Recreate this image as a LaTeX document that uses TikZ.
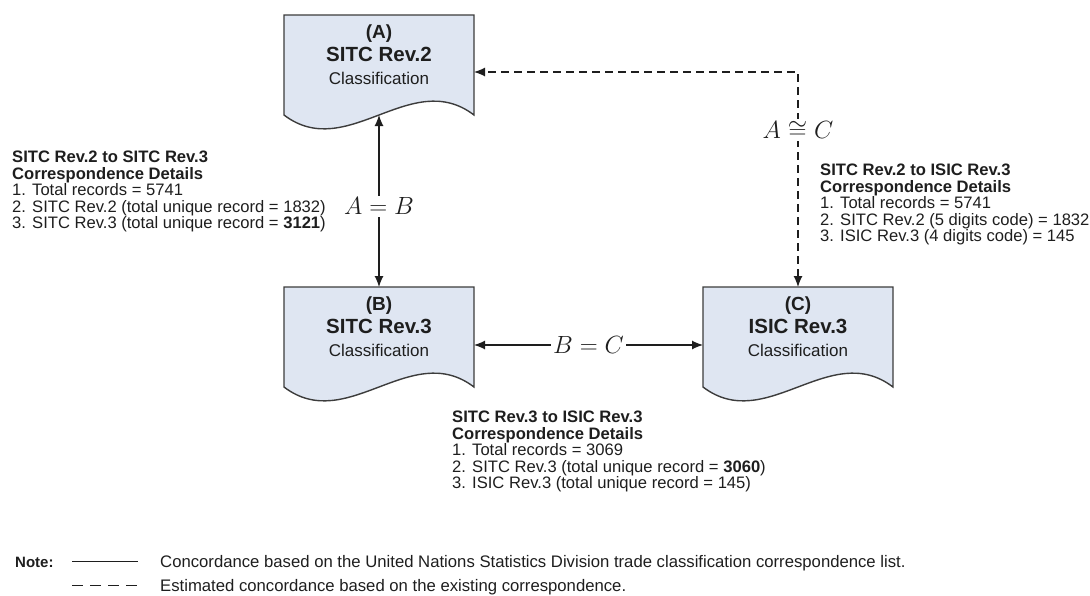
\documentclass[tikz,border=0pt]{standalone}
\usepackage{fontspec}
\setmainfont{Liberation Sans}
\usetikzlibrary{arrows.meta, positioning, backgrounds}
\definecolor{DocFill}{HTML}{DFE6F2}
\definecolor{DocLine}{HTML}{3C3C3C}
\definecolor{InkBlack}{HTML}{1E1E1E}

% document outline with wavy bottom, drawn around a named node
\newcommand{\docshape}[1]{%
  \draw[fill=DocFill, draw=DocLine, line width=1.4pt]
    (#1.north west) -- ([yshift=-20pt]#1.south west)
    .. controls ([xshift=63pt,yshift=-68pt]#1.south west) and ([xshift=-63pt,yshift=28pt]#1.south east)
    .. ([yshift=-20pt]#1.south east) -- (#1.north east) -- cycle;}

\begin{document}
\begin{tikzpicture}[
    x=1pt, y=-1pt,
    docbox/.style={rectangle, minimum width=190pt, minimum height=80pt, inner sep=0pt, outer sep=0pt,
                   align=center, text=InkBlack, font=\fontsize{17}{23}\selectfont},
    link/.style={InkBlack, line width=1.2pt, {Latex[length=11pt,width=9pt]}-{Latex[length=11pt,width=9pt]}},
    estimate/.style={link, dash pattern=on 8pt off 5pt},
    eqlabel/.style={fill=white, inner sep=2pt, text=InkBlack, font=\fontsize{24}{24}\selectfont},
    details/.style={anchor=north west, align=left, inner sep=0pt, text=InkBlack, font=\fontsize{16.6}{16.5}\selectfont},
    notetext/.style={anchor=base west, inner sep=0pt, text=InkBlack, font=\fontsize{16.7}{17}\selectfont}
]
    \useasboundingbox (0,0) rectangle (1090,595);

    % Three classifications
    \node[docbox] (sitc2) at (379,55) {{\fontsize{19}{23}\selectfont\bfseries (A)}\\{\fontsize{20.5}{23}\selectfont\bfseries SITC Rev.2}\\Classification};
    \node[docbox, below=192pt of sitc2] (sitc3) {{\fontsize{19}{23}\selectfont\bfseries (B)}\\{\fontsize{20.5}{23}\selectfont\bfseries SITC Rev.3}\\Classification};
    \node[docbox, right=229pt of sitc3] (isic3) {{\fontsize{19}{23}\selectfont\bfseries (C)}\\{\fontsize{20.5}{23}\selectfont\bfseries ISIC Rev.3}\\Classification};

    \begin{scope}[on background layer]
        \docshape{sitc2}
        \docshape{sitc3}
        \docshape{isic3}
    \end{scope}

    % Concordances
    \draw[link] ([yshift=-20pt]sitc2.south) -- node[eqlabel, pos=0.53] {$A = B$} (sitc3.north);
    \draw[link] ([yshift=-18pt]sitc3.east) -- node[eqlabel] {$B = C$} ([yshift=-18pt]isic3.west);
    \draw[estimate] (isic3.north) |- node[eqlabel, pos=0.365] {$A \cong C$} ([yshift=-17pt]sitc2.east);

    % Correspondence details
    \node[details] (detailsAB) at (12,151) {\textbf{SITC Rev.2 to SITC Rev.3}\\\textbf{Correspondence Details}\\
        1. Total records = 5741\\2. SITC Rev.2 (total unique record = 1832)\\3. SITC Rev.3 (total unique record = \textbf{3121})};
    \node[details] (detailsAC) at (820,164) {\textbf{SITC Rev.2 to ISIC Rev.3}\\\textbf{Correspondence Details}\\
        1. Total records = 5741\\2. SITC Rev.2 (5 digits code) = 1832\\3. ISIC Rev.3 (4 digits code) = 145};
    \node[details] (detailsBC) at (452,411) {\textbf{SITC Rev.3 to ISIC Rev.3}\\\textbf{Correspondence Details}\\
        1. Total records = 3069\\2. SITC Rev.3 (total unique record = \textbf{3060})\\3. ISIC Rev.3 (total unique record = 145)};

    % Note
    \node[notetext, font=\fontsize{15}{17}\selectfont\bfseries] (note) at (15,567) {Note:};
    \coordinate (solidL) at (72,561);
    \coordinate (solidR) at (138,561);
    \coordinate (dashL) at (72,585);
    \coordinate (dashR) at (138,585);
    \draw[InkBlack, line width=1pt] (solidL) -- (solidR);
    \draw[InkBlack, line width=1pt, dash pattern=on 11pt off 7pt] (dashL) -- (dashR);
    \node[notetext] (solidtxt) at (160,567) {Concordance based on the United Nations Statistics Division trade classification correspondence list.};
    \node[notetext] (dashtxt) at (160,591) {Estimated concordance based on the existing correspondence.};
\end{tikzpicture}
\end{document}
